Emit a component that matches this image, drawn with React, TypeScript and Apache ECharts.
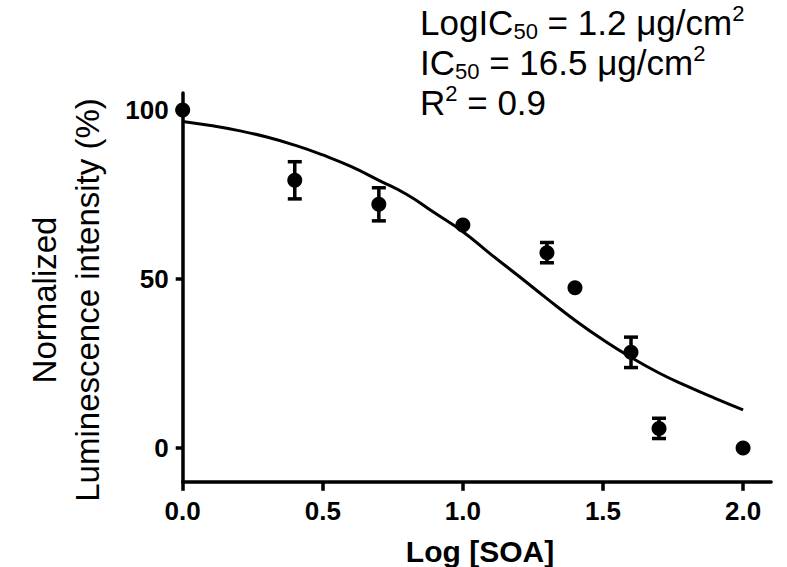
import React, { useEffect, useRef } from "react";
import * as echarts from "echarts";

const xTicks = [0, 0.5, 1, 1.5, 2];
const yTicks = [0, 50, 100];

const doseX = [0, 0.4, 0.7, 1.0, 1.3, 1.4, 1.6, 1.7, 2.0];
const meanY = [100, 79.2, 72.1, 66, 57.8, 47.4, 28.3, 5.8, 0];
const errY = [0, 5.5, 4.9, 0, 3, 0, 4.5, 3, 0];

const fitX = [0, 0.1, 0.2, 0.3, 0.4, 0.5, 0.6, 0.7, 0.8, 0.9, 1.0, 1.1, 1.2, 1.3, 1.4, 1.5, 1.6, 1.7, 1.8, 1.9, 2.0];
const fitY = [96.6, 95.4, 93.9, 92.0, 89.6, 86.7, 83.3, 79.2, 75.0, 69.5, 64.0, 57.3, 50.8, 44.2, 37.8, 32.0, 26.8, 22.2, 18.3, 14.7, 11.3];

const FONT = "Liberation Sans, Arial, Helvetica, sans-serif";

export default function App() {
  const ref = useRef<HTMLDivElement>(null);
  useEffect(() => {
    if (!ref.current) return;
    const chart = echarts.init(ref.current, undefined, { renderer: "svg" });
    const points = doseX.map((x, i) => [x, meanY[i]]);
    const bars = doseX
      .map((x, i) => [x, meanY[i] - errY[i], meanY[i] + errY[i], errY[i]])
      .filter((d) => d[3] > 0);
    const curve = fitX.map((x, i) => [x, fitY[i]]);
    chart.setOption({
      animation: false,
      backgroundColor: "#fff",
      grid: { left: 182.7, right: 15.9, top: 93.1, bottom: 85.2, containLabel: false },
      xAxis: {
        type: "value",
        min: 0,
        max: 2.1,
        interval: 0.5,
        splitLine: { show: false },
        axisLine: { show: true, onZero: false, lineStyle: { color: "#000", width: 3.5 } },
        axisTick: { show: true, length: 9, lineStyle: { color: "#000", width: 3.5 }, customValues: xTicks },
        axisLabel: {
          color: "#000",
          fontSize: 26,
          fontWeight: "bold",
          fontFamily: FONT,
          margin: 16,
          customValues: xTicks,
          formatter: (v: number) => v.toFixed(1),
        },
      },
      yAxis: {
        type: "value",
        min: -10,
        max: 105,
        interval: 50,
        splitLine: { show: false },
        axisLine: { show: true, onZero: false, lineStyle: { color: "#000", width: 3.5 } },
        axisTick: { show: true, length: 7, lineStyle: { color: "#000", width: 3.5 }, customValues: yTicks },
        axisLabel: {
          color: "#000",
          fontSize: 26,
          fontWeight: "bold",
          fontFamily: FONT,
          margin: 14,
          customValues: yTicks,
        },
      },
      series: [
        {
          type: "line",
          data: curve,
          smooth: true,
          showSymbol: false,
          lineStyle: { color: "#000", width: 3 },
          z: 2,
        },
        {
          type: "custom",
          data: bars,
          z: 3,
          renderItem: (params: any, api: any) => {
            const x = api.value(0);
            const lo = api.coord([x, api.value(1)]);
            const hi = api.coord([x, api.value(2)]);
            const half = 7;
            const style = { stroke: "#000", lineWidth: 3.5 };
            return {
              type: "group",
              children: [
                { type: "line", shape: { x1: lo[0], y1: lo[1], x2: hi[0], y2: hi[1] }, style },
                { type: "line", shape: { x1: lo[0] - half, y1: lo[1], x2: lo[0] + half, y2: lo[1] }, style },
                { type: "line", shape: { x1: hi[0] - half, y1: hi[1], x2: hi[0] + half, y2: hi[1] }, style },
              ],
            };
          },
        },
        {
          type: "scatter",
          data: points,
          symbol: "circle",
          symbolSize: 15,
          itemStyle: { color: "#000", opacity: 1 },
          z: 4,
        },
      ],
      graphic: [
        {
          type: "text",
          x: 66,
          y: 300,
          rotation: Math.PI / 2,
          style: {
            text: "Normalized\nLuminescence intensity (%)",
            fontSize: 33,
            lineHeight: 43,
            fontFamily: FONT,
            fill: "#000",
            align: "center",
            verticalAlign: "middle",
          },
        },
        {
          type: "text",
          x: 480,
          y: 551,
          style: {
            text: "Log [SOA]",
            fontSize: 30,
            fontWeight: "bold",
            fontFamily: FONT,
            fill: "#000",
            align: "center",
            verticalAlign: "middle",
          },
        },
        {
          type: "text",
          x: 420,
          y: 2,
          style: {
            text:
              "{m|LogIC}{s|50}{m| = 1.2 μg/cm}{p|2}\n{m|IC}{s|50}{m| = 16.5 μg/cm}{p|2}\n{m|R}{p|2}{m| = 0.9}",
            fill: "#000",
            align: "left",
            verticalAlign: "top",
            rich: {
              m: { fontSize: 35, lineHeight: 40, fontFamily: FONT, fill: "#000" },
              s: { fontSize: 22, lineHeight: 18, fontFamily: FONT, fill: "#000", verticalAlign: "bottom" },
              p: { fontSize: 22, lineHeight: 28, fontFamily: FONT, fill: "#000", verticalAlign: "top" },
            },
          },
        },
      ],
    });
    return () => chart.dispose();
  }, []);
  return (
    <div
      ref={ref}
      style={{ position: "absolute", left: 0, top: 0, width: 787, height: 567, background: "#fff" }}
    />
  );
}
